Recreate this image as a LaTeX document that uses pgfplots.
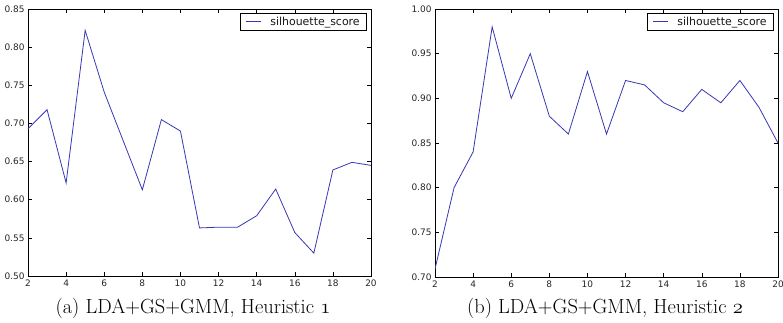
\documentclass[border=0pt]{standalone}
\usepackage{fontspec}
\newfontfamily\djv{DejaVu Sans}
\usepackage{pgfplots}
\pgfplotsset{compat=1.18}
\definecolor{lineblue}{RGB}{55,55,180}
\newcommand\osf[1]{{\usefont{OML}{lmm}{m}{it}#1}}
\pgfplotsset{
  silstyle/.style={
    anchor=south west,
    scale only axis,
    width=343bp,
    xmin=2, xmax=20,
    xtick={2,4,...,20},
    tick align=inside,
    major tick length=4bp,
    axis line style={line width=0.6bp},
    every tick/.style={black, line width=0.5bp},
    /pgf/number format/assume math mode=true,
    tick label style={font=\djv\fontsize{9}{10}\selectfont, text=black!85},
    yticklabel style={/pgf/number format/.cd, fixed, fixed zerofill, precision=2},
    legend style={at={(rel axis cs:1,1)}, anchor=north east, xshift=-4bp, yshift=-4bp,
      draw=black, line width=0.6bp, font=\djv\fontsize{11}{12}\selectfont,
      inner xsep=5bp, inner ysep=1.5bp, text=black!90,
      /tikz/every odd column/.append style={column sep=7bp}},
    legend cell align=left,
    legend image code/.code={\draw[#1] (0bp,0bp) -- (15bp,0bp);},
  }
}
\begin{document}
\begin{tikzpicture}
\useasboundingbox (0,0) rectangle (783bp,323bp);
\begin{axis}[silstyle, at={(28bp,47bp)}, height=267bp,
  ymin=0.5, ymax=0.85, ytick={0.50,0.55,0.60,0.65,0.70,0.75,0.80,0.85}]
\addplot[lineblue, line width=0.8bp] coordinates {
(2,0.693) (3,0.718) (4,0.622) (5,0.822) (6,0.741) (7,0.677) (8,0.613)
(9,0.705) (10,0.690) (11,0.563) (12,0.564) (13,0.564) (14,0.579)
(15,0.614) (16,0.557) (17,0.530) (18,0.639) (19,0.649) (20,0.645)};
\addlegendentry{silhouette\_score}
\end{axis}
\begin{axis}[silstyle, at={(435bp,46bp)}, height=268bp,
  ymin=0.70, ymax=1.00, ytick={0.70,0.75,0.80,0.85,0.90,0.95,1.00}]
\addplot[lineblue, line width=0.8bp] coordinates {
(2,0.709) (3,0.800) (4,0.840) (5,0.980) (6,0.900) (7,0.950) (8,0.880)
(9,0.860) (10,0.930) (11,0.860) (12,0.920) (13,0.915) (14,0.895)
(15,0.885) (16,0.910) (17,0.895) (18,0.920) (19,0.890) (20,0.850)};
\addlegendentry{silhouette\_score}
\end{axis}
\node[anchor=base, font=\fontsize{20.5}{23}\selectfont, inner sep=0] at (193bp,10bp) {(a) LDA+GS+GMM, Heuristic \osf{1}};
\node[anchor=base, font=\fontsize{20.5}{23}\selectfont, inner sep=0] at (605bp,10bp) {(b) LDA+GS+GMM, Heuristic \osf{2}};
\end{tikzpicture}
\end{document}
